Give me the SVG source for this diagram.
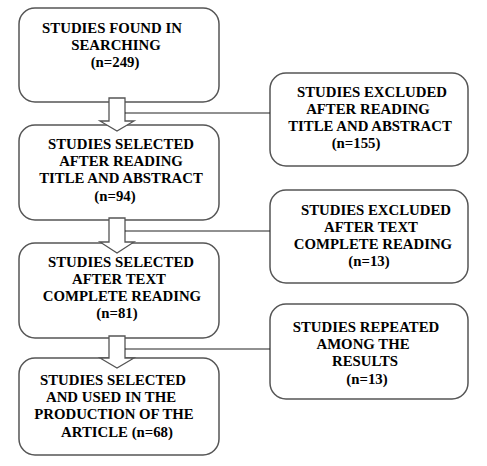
<svg xmlns="http://www.w3.org/2000/svg" width="487" height="466" viewBox="0 0 487 466">
<style>
.box{fill:#fff;stroke:#555;stroke-width:1.5}
.arr{fill:#fff;stroke:#555;stroke-width:1.3;stroke-linejoin:miter}
.ln{stroke:#222;stroke-width:1;fill:none}
</style>
<rect width="487" height="466" fill="#fff"/>
<g font-family="Liberation Serif" font-weight="bold" font-size="14.8" text-anchor="middle" fill="#000">
<g id="n1"><rect class="box" x="19" y="8" width="200" height="94" rx="16"/>
<text font-family="Liberation Serif" x="112" y="33">STUDIES FOUND IN</text><text font-family="Liberation Serif" x="116" y="50">SEARCHING</text><text font-family="Liberation Serif" x="115" y="67">(n=249)</text></g>
<g id="n2"><rect class="box" x="19" y="125" width="200" height="95" rx="16"/>
<text font-family="Liberation Serif" x="121" y="149">STUDIES SELECTED</text><text font-family="Liberation Serif" x="121" y="166">AFTER READING</text><text font-family="Liberation Serif" x="121" y="183">TITLE AND ABSTRACT</text><text font-family="Liberation Serif" x="115" y="201">(n=94)</text></g>
<g id="n3"><rect class="box" x="19" y="243" width="200" height="95" rx="16"/>
<text font-family="Liberation Serif" x="121" y="267">STUDIES SELECTED</text><text font-family="Liberation Serif" x="119" y="284">AFTER TEXT</text><text font-family="Liberation Serif" x="122" y="301">COMPLETE READING</text><text font-family="Liberation Serif" x="117" y="318">(n=81)</text></g>
<g id="n4"><rect class="box" x="19" y="358" width="200" height="97" rx="16"/>
<text font-family="Liberation Serif" x="113" y="385">STUDIES SELECTED</text><text font-family="Liberation Serif" x="111" y="402">AND USED IN THE</text><text font-family="Liberation Serif" x="114" y="419">PRODUCTION OF THE</text><text font-family="Liberation Serif" x="117" y="437">ARTICLE (n=68)</text></g>
<g id="r1"><rect class="box" x="270" y="73" width="198" height="93" rx="16"/>
<text font-family="Liberation Serif" x="372" y="97">STUDIES EXCLUDED</text><text font-family="Liberation Serif" x="368" y="114">AFTER READING</text><text font-family="Liberation Serif" x="370" y="131">TITLE AND ABSTRACT</text><text font-family="Liberation Serif" x="356" y="148">(n=155)</text></g>
<g id="r2"><rect class="box" x="270" y="190" width="198" height="93" rx="16"/>
<text font-family="Liberation Serif" x="376" y="215">STUDIES EXCLUDED</text><text font-family="Liberation Serif" x="371" y="232">AFTER TEXT</text><text font-family="Liberation Serif" x="373" y="249">COMPLETE READING</text><text font-family="Liberation Serif" x="369" y="266">(n=13)</text></g>
<g id="r3"><rect class="box" x="270" y="304" width="198" height="95" rx="16"/>
<text font-family="Liberation Serif" x="366" y="332">STUDIES REPEATED</text><text font-family="Liberation Serif" x="363" y="349">AMONG THE</text><text font-family="Liberation Serif" x="365" y="366">RESULTS</text><text font-family="Liberation Serif" x="367" y="384">(n=13)</text></g>
</g>
<g id="connectors">
<path class="arr" d="M109,98 H125 V121 H134 L117,131 L100,121 H109 Z"/>
<path class="arr" d="M109,218 H125 V242 H134 L117,253 L100,242 H109 Z"/>
<path class="arr" d="M109,336 H125 V358 H134 L117,368 L100,358 H109 Z"/>
<line class="ln" x1="125" y1="113" x2="270" y2="113"/>
<line class="ln" x1="125" y1="231" x2="270" y2="231"/>
<line class="ln" x1="125" y1="349" x2="270" y2="349"/>
</g>
</svg>
